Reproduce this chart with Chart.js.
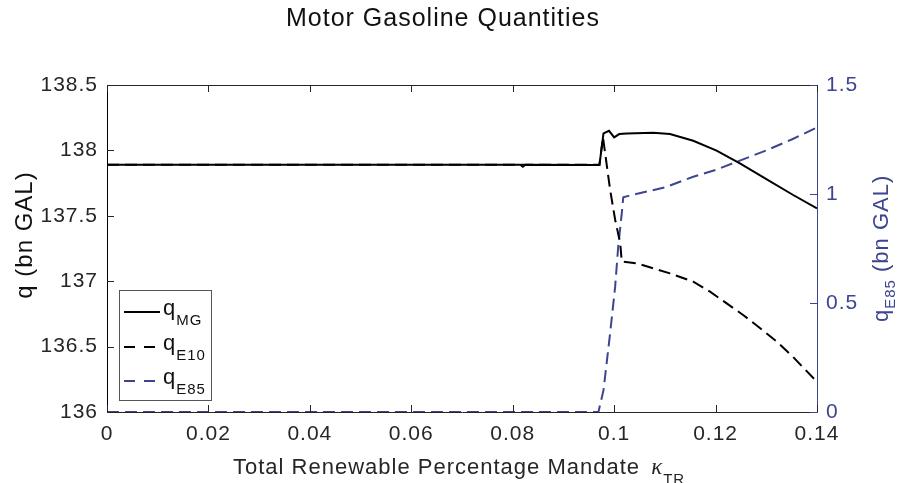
<!DOCTYPE html>
<html>
<head>
<meta charset="utf-8">
<script src="https://cdn.jsdelivr.net/npm/chart.js@4.4.1/dist/chart.umd.min.js"></script>
<style>
    html, body { margin: 0; padding: 0; background: #fff; overflow: hidden; }
    #wrap { position: relative; width: 897px; height: 483px; }
</style>
</head>
<body>
<div id="wrap"><canvas id="quantities-chart" width="897" height="483"></canvas></div>
<script>
// Motor gasoline quantities vs. total renewable mandate (two y axes)
const xTicks = [0, 0.02, 0.04, 0.06, 0.08, 0.1, 0.12, 0.14];
const xTickLabels = ['0', '0.02', '0.04', '0.06', '0.08', '0.1', '0.12', '0.14'];
const qTicks = [136, 136.5, 137, 137.5, 138, 138.5];
const qTickLabels = ['136', '136.5', '137', '137.5', '138', '138.5'];
const e85Ticks = [0, 0.5, 1, 1.5];
const e85TickLabels = ['0', '0.5', '1', '1.5'];

// q_MG (left axis)
const mgMandate = [0, 0.0815, 0.0820, 0.0825, 0.0971, 0.0979, 0.0990, 0.1000, 0.1010, 0.1025, 0.1077, 0.1110, 0.1156, 0.1202, 0.1248, 0.1301, 0.1353, 0.1400];
const qMG = [137.89, 137.89, 137.875, 137.89, 137.888, 138.13, 138.15, 138.10, 138.125, 138.13, 138.135, 138.125, 138.074, 137.998, 137.90, 137.779, 137.659, 137.557];

// q_E10 (left axis)
const e10Mandate = [0, 0.0971, 0.0978, 0.0992, 0.1002, 0.1012, 0.1015, 0.1044, 0.1110, 0.1156, 0.1189, 0.1222, 0.1255, 0.1288, 0.1320, 0.1353, 0.1400];
const qE10 = [137.89, 137.89, 138.10, 137.70, 137.47, 137.29, 137.15, 137.137, 137.06, 136.996, 136.92, 136.83, 136.74, 136.64, 136.54, 136.42, 136.23];

// q_E85 (right axis)
const e85Mandate = [0, 0.0969, 0.0979, 0.0992, 0.1002, 0.1008, 0.1015, 0.1018, 0.1034, 0.1100, 0.1156, 0.1200, 0.1242, 0.1300, 0.1350, 0.1400];
const qE85 = [0, 0, 0.10, 0.36, 0.575, 0.758, 0.911, 0.985, 0.995, 1.03, 1.079, 1.11, 1.148, 1.20, 1.25, 1.305];

const FONT = '"Liberation Sans", Arial, Helvetica, sans-serif';
const INK = '#262626';
const BLUE = '#3d4592';

const toPoints = (xs, ys) => xs.map((x, i) => ({ x: x, y: ys[i] }));

// MATLAB-ish text is a bit wider than Arial
const spacingPlugin = {
    id: 'spacing',
    beforeDraw(chart) {
        chart.ctx.letterSpacing = '1px';
    }
};

// top edge + inward tick marks
const framePlugin = {
    id: 'frame',
    afterDraw(chart) {
        const { ctx, chartArea: a, scales } = chart;
        const len = 7;
        ctx.save();
        ctx.lineWidth = 1;
        ctx.strokeStyle = INK;
        ctx.beginPath();
        ctx.moveTo(a.left, a.top + 0.5);
        ctx.lineTo(a.right, a.top + 0.5);
        xTicks.forEach(v => {
            const px = Math.round(scales.x.getPixelForValue(v)) + 0.5;
            ctx.moveTo(px, a.bottom);
            ctx.lineTo(px, a.bottom - len);
            ctx.moveTo(px, a.top);
            ctx.lineTo(px, a.top + len);
        });
        qTicks.forEach(v => {
            const py = Math.round(scales.y.getPixelForValue(v)) + 0.5;
            ctx.moveTo(a.left, py);
            ctx.lineTo(a.left + len, py);
        });
        ctx.stroke();

        ctx.strokeStyle = BLUE;
        ctx.beginPath();
        e85Ticks.forEach(v => {
            const py = Math.round(scales.y1.getPixelForValue(v)) + 0.5;
            ctx.moveTo(a.right, py);
            ctx.lineTo(a.right - len, py);
        });
        ctx.stroke();
        ctx.restore();
    }
};

function drawWithSub(ctx, x, y, main, sub, mainSize, subSize, drop) {
    ctx.font = mainSize + 'px ' + FONT;
    ctx.fillText(main, x, y);
    const w = ctx.measureText(main).width;
    ctx.font = subSize + 'px ' + FONT;
    ctx.fillText(sub, x + w, y + drop);
    return w + ctx.measureText(sub).width;
}

// titles, axis labels and the boxed legend
const textPlugin = {
    id: 'texts',
    afterDraw(chart) {
        const ctx = chart.ctx;
        ctx.save();
        ctx.textBaseline = 'alphabetic';

        ctx.fillStyle = '#111';
        ctx.textAlign = 'center';
        ctx.font = '25px ' + FONT;
        ctx.fillText('Motor Gasoline Quantities', 443, 26);

        // x title (runs off the bottom edge like the original)
        ctx.fillStyle = INK;
        ctx.textAlign = 'left';
        ctx.font = '22px ' + FONT;
        const xt = 'Total Renewable Percentage Mandate ';
        ctx.fillText(xt, 233, 474);
        let cx = 233 + ctx.measureText(xt).width + 4;
        ctx.font = 'italic 23px "Liberation Serif", "DejaVu Serif", serif';
        ctx.fillText('\u03ba', cx, 474);
        cx += ctx.measureText('\u03ba').width;
        ctx.font = '15px ' + FONT;
        ctx.fillText('TR', cx, 484);

        // left y title
        ctx.save();
        ctx.translate(32, 235);
        ctx.rotate(-Math.PI / 2);
        ctx.textAlign = 'center';
        ctx.font = '24px ' + FONT;
        ctx.fillStyle = '#111';
        ctx.fillText('q (bn GAL)', 0, 0);
        ctx.restore();

        // right y title
        ctx.save();
        ctx.translate(888, 322);
        ctx.rotate(-Math.PI / 2);
        ctx.textAlign = 'left';
        ctx.fillStyle = BLUE;
        const w = drawWithSub(ctx, 0, 0, 'q', 'E85', 22, 15, 7);
        ctx.font = '22px ' + FONT;
        ctx.fillText(' (bn GAL)', w, 0);
        ctx.restore();

        // legend
        const box = { x: 119.5, y: 290.5, w: 92, h: 110 };
        ctx.fillStyle = '#fff';
        ctx.fillRect(box.x, box.y, box.w, box.h);
        ctx.strokeStyle = '#555';
        ctx.lineWidth = 1;
        ctx.strokeRect(box.x, box.y, box.w, box.h);
        const rows = [312, 347, 381];
        const subs = ['MG', 'E10', 'E85'];
        chart.data.datasets.forEach((ds, i) => {
            const ly = rows[i];
            ctx.save();
            ctx.strokeStyle = ds.borderColor;
            ctx.lineWidth = 2;
            ctx.setLineDash(ds.borderDash && ds.borderDash.length ? [11, 9] : []);
            ctx.beginPath();
            ctx.moveTo(124, ly);
            ctx.lineTo(160, ly);
            ctx.stroke();
            ctx.restore();
            ctx.fillStyle = '#111';
            ctx.textAlign = 'left';
            drawWithSub(ctx, 163, ly + 3, 'q', subs[i], 22, 15, 10);
        });
        ctx.restore();
    }
};

const lineStyle = { borderWidth: 2, pointRadius: 0, pointHoverRadius: 0, tension: 0, fill: false };

new Chart(document.getElementById('quantities-chart').getContext('2d'), {
    type: 'line',
    data: {
        datasets: [{
            label: 'q_MG',
            data: toPoints(mgMandate, qMG),
            yAxisID: 'y',
            borderColor: '#000',
            ...lineStyle
        }, {
            label: 'q_E10',
            data: toPoints(e10Mandate, qE10),
            yAxisID: 'y',
            borderColor: '#000',
            borderDash: [12, 6],
            ...lineStyle
        }, {
            label: 'q_E85',
            data: toPoints(e85Mandate, qE85),
            yAxisID: 'y1',
            borderColor: BLUE,
            borderDash: [12, 6],
            ...lineStyle
        }]
    },
    options: {
        responsive: false,
        devicePixelRatio: 1,
        animation: false,
        layout: { padding: { top: 85, left: 0, right: 0, bottom: 0 } },
        plugins: {
            legend: { display: false },
            title: { display: false },
            tooltip: { enabled: false }
        },
        scales: {
            x: {
                type: 'linear',
                min: 0,
                max: 0.14,
                afterBuildTicks: s => { s.ticks = xTicks.map(v => ({ value: v })); },
                afterFit: s => { s.height = 71; },
                ticks: {
                    callback: (v, i) => xTickLabels[i],
                    autoSkip: false,
                    maxRotation: 0,
                    color: INK,
                    padding: 10,
                    font: { family: FONT, size: 21 }
                },
                grid: { drawOnChartArea: false, drawTicks: false },
                border: { color: INK, width: 1 }
            },
            y: {
                type: 'linear',
                position: 'left',
                min: 136,
                max: 138.5,
                afterBuildTicks: s => { s.ticks = qTicks.map(v => ({ value: v })); },
                afterFit: s => { s.width = 107; },
                ticks: {
                    callback: (v, i) => qTickLabels[i],
                    color: INK,
                    padding: 9,
                    font: { family: FONT, size: 21 }
                },
                grid: { drawOnChartArea: false, drawTicks: false },
                border: { color: '#000', width: 1 }
            },
            y1: {
                type: 'linear',
                position: 'right',
                min: 0,
                max: 1.5,
                afterBuildTicks: s => { s.ticks = e85Ticks.map(v => ({ value: v })); },
                afterFit: s => { s.width = 80; },
                ticks: {
                    callback: (v, i) => e85TickLabels[i],
                    color: BLUE,
                    padding: 9,
                    font: { family: FONT, size: 21 }
                },
                grid: { drawOnChartArea: false, drawTicks: false },
                border: { color: BLUE, width: 1 }
            }
        }
    },
    plugins: [spacingPlugin, framePlugin, textPlugin]
});
</script>
</body>
</html>
